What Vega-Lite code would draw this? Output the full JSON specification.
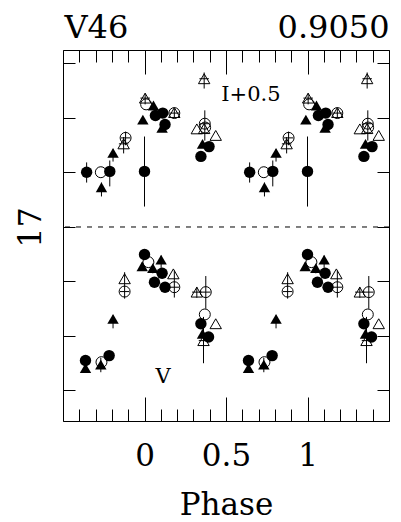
{
"$schema":"https://vega.github.io/schema/vega-lite/v6.json",
"width":326,"height":371,
"autosize":{"type":"none"},
"padding":{"left":63,"top":50,"right":12,"bottom":101},
"background":"white",
"config":{"view":{"stroke":"black","strokeWidth":1},
 "axis":{"domain":false,"grid":false,"tickColor":"black","tickWidth":1,"labelColor":"black","titleColor":"black","labelFont":"DejaVu Serif","titleFont":"DejaVu Serif","titleFontWeight":"normal","labelOverlap":false,"labelFlush":false}},
"data":{"values":[
{"p":-0.355,"m":16.799,"s":"fc","lo":16.763,"hi":16.837},
{"p":-0.268,"m":16.799,"s":"oc"},
{"p":-0.264,"m":16.854,"s":"ft","lo":16.837,"hi":16.888},
{"p":-0.213,"m":16.796,"s":"fc","lo":16.756,"hi":16.851},
{"p":-0.193,"m":16.728,"s":"ft","lo":16.715,"hi":16.76},
{"p":-0.128,"m":16.695,"s":"ot","lo":16.67,"hi":16.73},
{"p":-0.116,"m":16.673,"s":"oc","lo":16.65,"hi":16.7},
{"p":0.0,"m":16.796,"s":"fc","lo":16.668,"hi":16.925},
{"p":-0.01,"m":16.606,"s":"ft"},
{"p":0.004,"m":16.527,"s":"ot","lo":16.51,"hi":16.55},
{"p":0.01,"m":16.55,"s":"oc"},
{"p":0.055,"m":16.554,"s":"ft"},
{"p":0.067,"m":16.591,"s":"fc"},
{"p":0.112,"m":16.582,"s":"fc"},
{"p":0.126,"m":16.624,"s":"fc"},
{"p":0.108,"m":16.636,"s":"ft"},
{"p":0.183,"m":16.582,"s":"oc","lo":16.565,"hi":16.6},
{"p":0.183,"m":16.58,"s":"ot"},
{"p":0.366,"m":16.456,"s":"ot","lo":16.433,"hi":16.492},
{"p":0.321,"m":16.64,"s":"ot"},
{"p":0.37,"m":16.621,"s":"oc","lo":16.572,"hi":16.683},
{"p":0.366,"m":16.639,"s":"ot"},
{"p":0.437,"m":16.664,"s":"ot"},
{"p":0.356,"m":16.695,"s":"ft"},
{"p":0.396,"m":16.705,"s":"fc"},
{"p":0.346,"m":16.741,"s":"fc"},
{"p":0.372,"m":16.635,"s":"oc"},
{"p":0.645,"m":16.799,"s":"fc","lo":16.763,"hi":16.837},
{"p":0.732,"m":16.799,"s":"oc"},
{"p":0.736,"m":16.854,"s":"ft","lo":16.837,"hi":16.888},
{"p":0.787,"m":16.796,"s":"fc","lo":16.756,"hi":16.851},
{"p":0.807,"m":16.728,"s":"ft","lo":16.715,"hi":16.76},
{"p":0.872,"m":16.695,"s":"ot","lo":16.67,"hi":16.73},
{"p":0.884,"m":16.673,"s":"oc","lo":16.65,"hi":16.7},
{"p":1.0,"m":16.796,"s":"fc","lo":16.668,"hi":16.925},
{"p":0.99,"m":16.606,"s":"ft"},
{"p":1.004,"m":16.527,"s":"ot","lo":16.51,"hi":16.55},
{"p":1.01,"m":16.55,"s":"oc"},
{"p":1.055,"m":16.554,"s":"ft"},
{"p":1.067,"m":16.591,"s":"fc"},
{"p":1.112,"m":16.582,"s":"fc"},
{"p":1.126,"m":16.624,"s":"fc"},
{"p":1.108,"m":16.636,"s":"ft"},
{"p":1.183,"m":16.582,"s":"oc","lo":16.565,"hi":16.6},
{"p":1.183,"m":16.58,"s":"ot"},
{"p":1.366,"m":16.456,"s":"ot","lo":16.433,"hi":16.492},
{"p":1.321,"m":16.64,"s":"ot"},
{"p":1.37,"m":16.621,"s":"oc","lo":16.572,"hi":16.683},
{"p":1.366,"m":16.639,"s":"ot"},
{"p":1.437,"m":16.664,"s":"ot"},
{"p":1.356,"m":16.695,"s":"ft"},
{"p":1.396,"m":16.705,"s":"fc"},
{"p":1.346,"m":16.741,"s":"fc"},
{"p":1.372,"m":16.635,"s":"oc"},
{"p":-0.362,"m":17.49,"s":"fc"},
{"p":-0.362,"m":17.518,"s":"ft"},
{"p":-0.264,"m":17.496,"s":"oc"},
{"p":-0.268,"m":17.505,"s":"ft","lo":17.48,"hi":17.533},
{"p":-0.217,"m":17.472,"s":"fc"},
{"p":-0.193,"m":17.337,"s":"ft","lo":17.325,"hi":17.372},
{"p":-0.122,"m":17.19,"s":"ot"},
{"p":-0.122,"m":17.237,"s":"oc","lo":17.166,"hi":17.263},
{"p":0.0,"m":17.101,"s":"fc"},
{"p":-0.014,"m":17.144,"s":"ft","lo":17.13,"hi":17.16},
{"p":0.024,"m":17.129,"s":"oc"},
{"p":0.051,"m":17.151,"s":"ft","lo":17.14,"hi":17.17},
{"p":0.102,"m":17.12,"s":"ft","lo":17.105,"hi":17.15},
{"p":0.108,"m":17.17,"s":"fc"},
{"p":0.061,"m":17.203,"s":"fc"},
{"p":0.126,"m":17.221,"s":"fc"},
{"p":0.177,"m":17.172,"s":"ot"},
{"p":0.183,"m":17.221,"s":"oc","lo":17.16,"hi":17.259},
{"p":0.321,"m":17.239,"s":"ot","lo":17.22,"hi":17.26},
{"p":0.376,"m":17.239,"s":"oc","lo":17.18,"hi":17.3},
{"p":0.37,"m":17.321,"s":"oc"},
{"p":0.346,"m":17.355,"s":"fc"},
{"p":0.356,"m":17.392,"s":"ft"},
{"p":0.393,"m":17.404,"s":"fc"},
{"p":0.437,"m":17.355,"s":"ot"},
{"p":0.362,"m":17.417,"s":"ot","lo":17.33,"hi":17.5},
{"p":0.638,"m":17.49,"s":"fc"},
{"p":0.638,"m":17.518,"s":"ft"},
{"p":0.736,"m":17.496,"s":"oc"},
{"p":0.732,"m":17.505,"s":"ft","lo":17.48,"hi":17.533},
{"p":0.783,"m":17.472,"s":"fc"},
{"p":0.807,"m":17.337,"s":"ft","lo":17.325,"hi":17.372},
{"p":0.878,"m":17.19,"s":"ot"},
{"p":0.878,"m":17.237,"s":"oc","lo":17.166,"hi":17.263},
{"p":1.0,"m":17.101,"s":"fc"},
{"p":0.986,"m":17.144,"s":"ft","lo":17.13,"hi":17.16},
{"p":1.024,"m":17.129,"s":"oc"},
{"p":1.051,"m":17.151,"s":"ft","lo":17.14,"hi":17.17},
{"p":1.102,"m":17.12,"s":"ft","lo":17.105,"hi":17.15},
{"p":1.108,"m":17.17,"s":"fc"},
{"p":1.061,"m":17.203,"s":"fc"},
{"p":1.126,"m":17.221,"s":"fc"},
{"p":1.177,"m":17.172,"s":"ot"},
{"p":1.183,"m":17.221,"s":"oc","lo":17.16,"hi":17.259},
{"p":1.321,"m":17.239,"s":"ot","lo":17.22,"hi":17.26},
{"p":1.376,"m":17.239,"s":"oc","lo":17.18,"hi":17.3},
{"p":1.37,"m":17.321,"s":"oc"},
{"p":1.346,"m":17.355,"s":"fc"},
{"p":1.356,"m":17.392,"s":"ft"},
{"p":1.393,"m":17.404,"s":"fc"},
{"p":1.437,"m":17.355,"s":"ot"},
{"p":1.362,"m":17.417,"s":"ot","lo":17.33,"hi":17.5}
]},
"layer":[
{"transform":[{"filter":"isValid(datum.lo)"}],
 "mark":{"type":"rule","color":"black","strokeWidth":1},
 "encoding":{
  "x":{"field":"p","type":"quantitative","scale":{"domain":[-0.5,1.5],"nice":false,"zero":false},
   "axis":{"orient":"bottom","values":[-0.5,-0.4,-0.3,-0.2,-0.1,0,0.1,0.2,0.3,0.4,0.5,0.6,0.7,0.8,0.9,1,1.1,1.2,1.3,1.4,1.5],
    "tickSize":{"condition":{"test":"abs(datum.value*2-round(datum.value*2))<0.001","value":-24},"value":-12},
    "labelExpr":"abs(datum.value)<0.001 ? '0' : abs(datum.value-0.5)<0.001 ? '0.5' : abs(datum.value-1)<0.001 ? '1' : ''",
    "labelFontSize":31,"labelBaseline":"alphabetic","labelPadding":68,
    "title":"Phase","titleFontSize":31,"titleBaseline":"alphabetic","titleAlign":"center","titleX":163,"titleY":93}},
  "y":{"field":"lo","type":"quantitative","scale":{"domain":[16.3505,17.712],"reverse":true,"nice":false,"zero":false},
   "axis":{"orient":"left","values":[16.4,16.6,16.8,17,17.2,17.4,17.6],"tickSize":-12,
    "labelExpr":"abs(datum.value-17)<0.001 ? '17' : ''","labelAngle":270,"labelAlign":"center","labelBaseline":"alphabetic",
    "labelPadding":35,"labelFontSize":32,"title":null}},
  "y2":{"field":"hi"}}},
{"transform":[{"filter":"datum.s=='oc'"}],
 "mark":{"type":"point","shape":"circle","filled":false,"color":"black","strokeWidth":1,"size":120,"opacity":1},
 "encoding":{"x":{"field":"p","type":"quantitative","scale":{"domain":[-0.5,1.5],"nice":false,"zero":false},"axis":null},
  "y":{"field":"m","type":"quantitative","scale":{"domain":[16.3505,17.712],"reverse":true,"nice":false,"zero":false},"axis":null}}},
{"transform":[{"filter":"datum.s=='ot'"}],
 "mark":{"type":"point","shape":"triangle-up","filled":false,"color":"black","strokeWidth":1,"size":130,"opacity":1},
 "encoding":{"x":{"field":"p","type":"quantitative","scale":{"domain":[-0.5,1.5],"nice":false,"zero":false},"axis":null},
  "y":{"field":"m","type":"quantitative","scale":{"domain":[16.3505,17.712],"reverse":true,"nice":false,"zero":false},"axis":null}}},
{"transform":[{"filter":"(datum.s=='oc' || datum.s=='ot') && isValid(datum.lo)"}],
 "mark":{"type":"point","shape":"M-1,0L1,0","filled":false,"color":"black","strokeWidth":1,"size":90,"opacity":1},
 "encoding":{"x":{"field":"p","type":"quantitative","scale":{"domain":[-0.5,1.5],"nice":false,"zero":false},"axis":null},
  "y":{"field":"m","type":"quantitative","scale":{"domain":[16.3505,17.712],"reverse":true,"nice":false,"zero":false},"axis":null}}},
{"transform":[{"filter":"datum.s=='fc'"}],
 "mark":{"type":"point","shape":"circle","filled":true,"color":"black","size":130,"opacity":1},
 "encoding":{"x":{"field":"p","type":"quantitative","scale":{"domain":[-0.5,1.5],"nice":false,"zero":false},"axis":null},
  "y":{"field":"m","type":"quantitative","scale":{"domain":[16.3505,17.712],"reverse":true,"nice":false,"zero":false},"axis":null}}},
{"transform":[{"filter":"datum.s=='ft'"}],
 "mark":{"type":"point","shape":"triangle-up","filled":true,"color":"black","size":130,"opacity":1},
 "encoding":{"x":{"field":"p","type":"quantitative","scale":{"domain":[-0.5,1.5],"nice":false,"zero":false},"axis":null},
  "y":{"field":"m","type":"quantitative","scale":{"domain":[16.3505,17.712],"reverse":true,"nice":false,"zero":false},"axis":null}}},
{"data":{"values":[{}]},
 "mark":{"type":"rule","strokeDash":[5,6],"color":"black","strokeWidth":1},
 "encoding":{"y":{"datum":17,"type":"quantitative","scale":{"domain":[16.3505,17.712],"reverse":true,"nice":false,"zero":false},"axis":null}}},
{"data":{"values":[{}]},
 "mark":{"type":"text","text":"I+0.5","font":"DejaVu Serif","fontSize":21,"align":"left","baseline":"alphabetic","color":"black"},
 "encoding":{
  "x":{"datum":0.471,"type":"quantitative","scale":{"domain":[-0.5,1.5],"nice":false,"zero":false},
   "axis":{"orient":"top","values":[-0.5,-0.4,-0.3,-0.2,-0.1,0,0.1,0.2,0.3,0.4,0.5,0.6,0.7,0.8,0.9,1,1.1,1.2,1.3,1.4,1.5],
    "tickSize":{"condition":{"test":"abs(datum.value*2-round(datum.value*2))<0.001","value":-24},"value":-12},
    "labels":false,"title":"V46","titleFontSize":32,"titleAngle":0,"titleAlign":"left","titleBaseline":"alphabetic","titleX":1,"titleY":-13}},
  "y":{"datum":16.536,"type":"quantitative","scale":{"domain":[16.3505,17.712],"reverse":true,"nice":false,"zero":false},
   "axis":{"orient":"right","values":[16.4,16.6,16.8,17,17.2,17.4,17.6],"tickSize":-12,"labels":false,
    "title":"0.9050","titleFontSize":32,"titleAngle":0,"titleAlign":"right","titleBaseline":"alphabetic","titleX":0,"titleY":-13}}}},
{"data":{"values":[{}]},
 "mark":{"type":"text","text":"V","font":"DejaVu Serif","fontSize":21,"align":"center","baseline":"alphabetic","color":"black"},
 "encoding":{
  "x":{"datum":0.114,"type":"quantitative","scale":{"domain":[-0.5,1.5],"nice":false,"zero":false},"axis":null},
  "y":{"datum":17.571,"type":"quantitative","scale":{"domain":[16.3505,17.712],"reverse":true,"nice":false,"zero":false},"axis":null}}}
],
"resolve":{"axis":{"x":"independent","y":"independent"}}
}
